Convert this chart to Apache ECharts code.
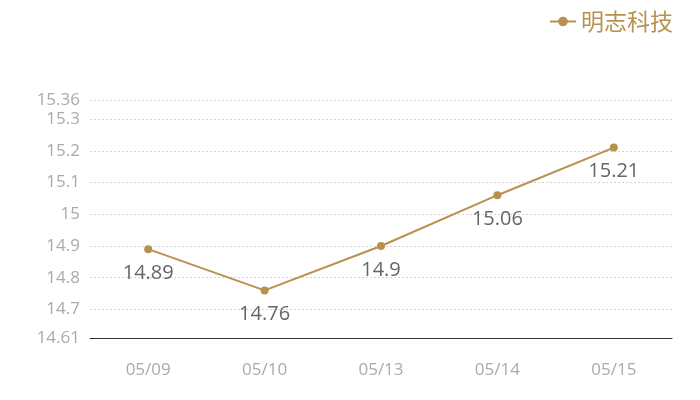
<!DOCTYPE html>
<html><head><meta charset="utf-8">
<script src="https://cdn.jsdelivr.net/npm/echarts@6/dist/echarts.min.js"></script>
<style>html,body{margin:0;padding:0;background:#fff}#c{width:700px;height:400px}</style>
</head><body><div id="c"></div>
<script>
var categories = ['05/09','05/10','05/13','05/14','05/15'];
var seriesName = '明志科技';
var values = [14.89, 14.76, 14.9, 15.06, 15.21];
var yMin = 14.61;
var yMax = 15.36;
var color = '#b8904f';
var font = '"Open Sans","Noto Sans","Noto Sans CJK SC",sans-serif';
var chart = echarts.init(document.getElementById('c'));
chart.setOption({
  animation: false,
  textStyle: {fontFamily: font},
  legend: {
    right: 22, top: 5,
    itemWidth: 26, itemHeight: 12, itemGap: 6,
    textStyle: {color: color, fontSize: 23, fontFamily: '"Noto Sans CJK SC",sans-serif'},
    data: [seriesName]
  },
  grid: {left: 90, right: 28, top: 100, bottom: 62},
  xAxis: {
    type: 'category', data: categories, boundaryGap: true,
    axisLine: {lineStyle: {color: '#333'}},
    axisTick: {show: false},
    axisLabel: {color: '#aaa', fontSize: 17, margin: 24, fontFamily: font}
  },
  yAxis: {
    type: 'value', min: yMin, max: yMax, splitNumber: 8,
    axisLine: {show: false}, axisTick: {show: false},
    axisLabel: {color: '#aaa', fontSize: 17, margin: 10, fontFamily: font},
    splitLine: {lineStyle: {color: '#d4d4d4', type: [2, 2]}}
  },
  series: [{
    name: seriesName, type: 'line', data: values,
    symbol: 'circle', symbolSize: 8,
    itemStyle: {color: color},
    lineStyle: {color: color, width: 2},
    label: {show: true, position: 'bottom', distance: 10, color: '#666', fontSize: 20, fontFamily: font}
  }]
});
</script></body></html>
